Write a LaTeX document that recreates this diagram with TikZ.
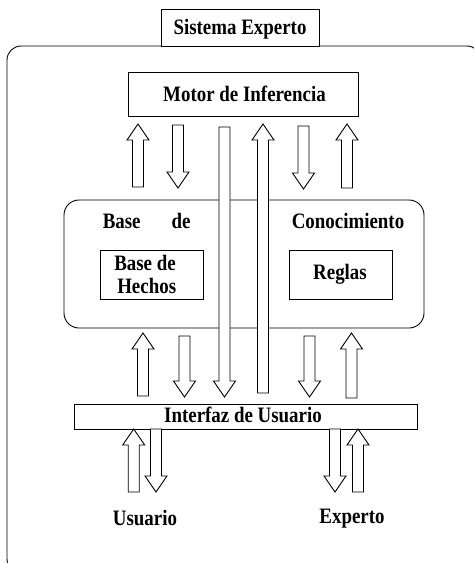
\documentclass[tikz,border=0pt]{standalone}
\usepackage{fontspec}
\setmainfont{Liberation Serif}[FakeStretch=0.86]
\newcommand\arrup[3]{% x, tip y, bottom y
  \draw[blk] (#1-5.5,#3) -- (#1-5.5,#2+16) -- (#1-11,#2+16) -- (#1,#2) -- (#1+11,#2+16) -- (#1+5.5,#2+16) -- (#1+5.5,#3) -- cycle;}
\newcommand\arrdn[3]{% x, top y, tip y
  \draw[blk] (#1-5.5,#2) -- (#1-5.5,#3-16) -- (#1-11,#3-16) -- (#1,#3) -- (#1+11,#3-16) -- (#1+5.5,#3-16) -- (#1+5.5,#2) -- cycle;}
\begin{document}
\begin{tikzpicture}[x=1pt,y=-1pt,
  line width=0.9pt,
  box/.style={draw=black,fill=white,line width=0.9pt},
  blk/.style={draw=black,fill=white,line width=0.9pt,line join=miter},
  lbl/.style={font=\fontsize{22}{24}\selectfont\bfseries,inner sep=0pt,anchor=base}]
\useasboundingbox (0,0) rectangle (474,563);
\clip (0,0) rectangle (474,563);
\fill[white] (0,0) rectangle (474,563);
% outer frame
\draw[rounded corners=14pt] (7,46) rectangle (481,573);
% title box
\path[box] (161,9) rectangle (319,46);
\node[lbl] (title) at (240,34.3) {Sistema Experto};
% motor
\path[box] (128,72) rectangle (358,116);
\node[lbl] (motor) at (244.5,101.7) {Motor de Inferencia};
% base de conocimiento
\draw[rounded corners=15pt] (64,200) rectangle (424,328);
\node[lbl] (bc1) at (121.7,228) {Base};
\node[lbl] (bc2) at (181,228) {de};
\node[lbl] (bc3) at (348,228) {Conocimiento};
\path[box] (100,250) rectangle (203,299);
\node[lbl] (bh1) at (145,270.7) {Base de};
\node[lbl] (bh2) at (146.7,293.3) {Hechos};
\path[box] (289,250) rectangle (392,299);
\node[lbl] (reglas) at (340,279) {Reglas};
% interfaz
\path[box] (74,404) rectangle (417,429);
\node[lbl] (interfaz) at (243,422.7) {Interfaz de Usuario};
% labels
\node[lbl] (usuario) at (145,525) {Usuario};
\node[lbl] (experto) at (352,523) {Experto};
% upper arrows
\arrup{138}{124}{187}
\arrdn{178}{125}{188}
\arrdn{303.5}{126}{189}
\arrup{347}{124}{188}
% long arrows
\arrdn{224.5}{127}{397}
\arrup{263}{124}{393}
% lower arrows
\arrup{143}{333}{396}
\arrdn{184.5}{336}{397}
\arrdn{309.5}{336}{397}
\arrup{351.5}{333}{398}
% bottom arrows
\arrup{133.7}{429}{492}
\arrdn{156}{429}{492}
\arrdn{335}{429}{492}
\arrup{358}{429}{492}
\end{tikzpicture}
\end{document}
